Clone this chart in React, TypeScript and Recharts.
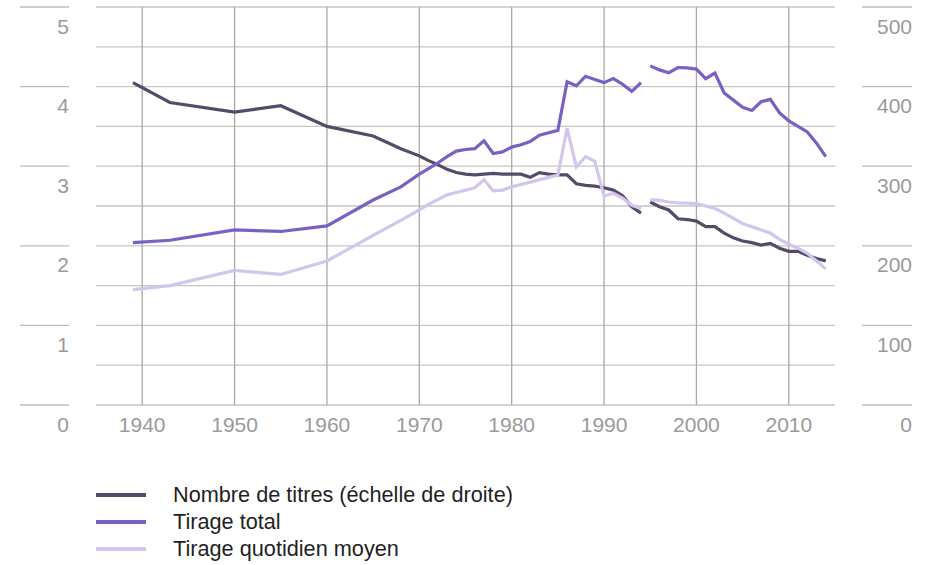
import { CartesianGrid, Line, LineChart, XAxis, YAxis } from 'recharts';

// Série 1 : 1939–1994, série 2 : 1995–2014 (rupture de série)
const YEARS_A = [
  1939, 1943, 1950, 1955, 1960, 1965, 1968, 1970, 1971, 1972, 1973, 1974, 1975, 1976, 1977, 1978,
  1979, 1980, 1981, 1982, 1983, 1984, 1985, 1986, 1987, 1988, 1989, 1990, 1991, 1992, 1993, 1994,
];
const YEARS_B = [
  1995, 1996, 1997, 1998, 1999, 2000, 2001, 2002, 2003, 2004, 2005, 2006, 2007, 2008, 2009, 2010,
  2011, 2012, 2013, 2014,
];

// Nombre de titres (échelle de droite)
const TITRES_A = [
  405, 380, 368, 376, 350, 338, 322, 313, 307, 302, 296, 292, 290, 289, 290, 291,
  290, 290, 290, 286, 292, 290, 289, 289, 278, 276, 275, 273, 270, 263, 249, 241,
];
const TITRES_B = [
  255, 249, 245, 234, 233, 231, 224, 224, 216, 210, 206, 204, 201, 203, 197, 193,
  193, 188, 184, 181,
];

// Tirage total (millions, échelle de gauche)
const TOTAL_A = [
  2.04, 2.07, 2.2, 2.18, 2.25, 2.575, 2.74, 2.9, 2.97, 3.04, 3.12, 3.19, 3.21, 3.22, 3.32, 3.16,
  3.18, 3.24, 3.27, 3.31, 3.39, 3.42, 3.45, 4.06, 4.01, 4.13, 4.09, 4.05, 4.1, 4.03, 3.94, 4.05,
];
const TOTAL_B = [
  4.26, 4.21, 4.175, 4.24, 4.235, 4.22, 4.1, 4.17, 3.92, 3.83, 3.74, 3.7, 3.81, 3.84, 3.67, 3.57,
  3.5, 3.43, 3.29, 3.12,
];

// Tirage quotidien moyen (millions, échelle de gauche)
const QUOTIDIEN_A = [
  1.45, 1.5, 1.69, 1.64, 1.81, 2.13, 2.32, 2.45, 2.52, 2.58, 2.64, 2.67, 2.7, 2.73, 2.83, 2.69,
  2.7, 2.74, 2.77, 2.8, 2.83, 2.86, 2.89, 3.475, 2.99, 3.12, 3.06, 2.625, 2.66, 2.6, 2.51, 2.47,
];
const QUOTIDIEN_B = [
  2.58, 2.57, 2.55, 2.54, 2.535, 2.53, 2.5, 2.47, 2.41, 2.345, 2.28, 2.24, 2.2, 2.16, 2.08, 2.02,
  1.97, 1.905, 1.81, 1.71,
];

const X_TICKS = [1940, 1950, 1960, 1970, 1980, 1990, 2000, 2010];
const LEFT_TICKS = [0, 0.5, 1, 1.5, 2, 2.5, 3, 3.5, 4, 4.5, 5];
const RIGHT_TICKS = [0, 100, 200, 300, 400, 500];

const SERIES = [
  { key: 'titres', name: 'Nombre de titres (échelle de droite)', color: '#564a69', axis: 'right' },
  { key: 'total', name: 'Tirage total', color: '#7a60c3', axis: 'left' },
  { key: 'quotidien', name: 'Tirage quotidien moyen', color: '#d3c5eb', axis: 'left' },
];

const segA = YEARS_A.map((year, i) => ({
  year,
  titres: TITRES_A[i],
  total: TOTAL_A[i],
  quotidien: QUOTIDIEN_A[i],
}));
const segB = YEARS_B.map((year, i) => ({
  year,
  titres: TITRES_B[i],
  total: TOTAL_B[i],
  quotidien: QUOTIDIEN_B[i],
}));

const W = 938;
const H = 440;
const PLOT_LEFT = 96;
const PLOT_RIGHT = 835;
const PLOT_TOP = 7;
const PLOT_BOTTOM = 405;
const FONT = '"Liberation Sans", Arial, sans-serif';
const LABEL_COLOR = '#9a9a9a';

function LeftTick(props: any) {
  const { y, payload } = props;
  if (!Number.isInteger(payload.value)) return <g />;
  return (
    <g>
      <line x1={PLOT_LEFT - 76} x2={PLOT_LEFT - 27} y1={y} y2={y} stroke="#bdbdbd" strokeWidth={1.3} />
      <text x={PLOT_LEFT - 27} y={y + 19} textAnchor="end" dominantBaseline="central" fill={LABEL_COLOR} fontSize={21} fontFamily={FONT}>
        {payload.value}
      </text>
    </g>
  );
}

function RightTick(props: any) {
  const { y, payload } = props;
  return (
    <g>
      <line x1={PLOT_RIGHT + 27} x2={PLOT_RIGHT + 77} y1={y} y2={y} stroke="#bdbdbd" strokeWidth={1.3} />
      <text x={PLOT_RIGHT + 77} y={y + 19} textAnchor="end" dominantBaseline="central" fill={LABEL_COLOR} fontSize={21} fontFamily={FONT}>
        {payload.value}
      </text>
    </g>
  );
}

function BottomTick(props: any) {
  const { x, payload } = props;
  return (
    <text x={x} y={PLOT_BOTTOM + 19} textAnchor="middle" dominantBaseline="central" fill={LABEL_COLOR} fontSize={21} fontFamily={FONT}>
      {payload.value}
    </text>
  );
}

export default function App() {
  return (
    <div style={{ position: 'absolute', left: 0, top: 0, width: W, height: 565, background: '#fff' }}>
      <LineChart width={W} height={H} margin={{ top: PLOT_TOP, right: 0, left: 0, bottom: 0 }}>
        <CartesianGrid yAxisId="left" vertical={false} stroke="#c6c6c6" strokeWidth={1.3} />
        <CartesianGrid yAxisId="left" horizontal={false} syncWithTicks stroke="#a9a9a9" strokeWidth={1.3} />
        <XAxis
          type="number"
          dataKey="year"
          domain={[1935, 2015]}
          ticks={X_TICKS}
          allowDataOverflow
          axisLine={false}
          tickLine={false}
          height={H - PLOT_BOTTOM}
          tick={BottomTick}
        />
        <YAxis
          yAxisId="left"
          orientation="left"
          domain={[0, 5]}
          ticks={LEFT_TICKS}
          width={PLOT_LEFT}
          axisLine={false}
          tickLine={false}
          tick={LeftTick}
          interval={0}
        />
        <YAxis
          yAxisId="right"
          orientation="right"
          domain={[0, 500]}
          ticks={RIGHT_TICKS}
          width={W - PLOT_RIGHT}
          axisLine={false}
          tickLine={false}
          tick={RightTick}
          interval={0}
        />
        {[segA, segB].map((seg, si) =>
          SERIES.map((s) => (
            <Line
              key={`${s.key}-${si}`}
              data={seg}
              dataKey={s.key}
              yAxisId={s.axis}
              type="linear"
              stroke={s.color}
              strokeWidth={3.2}
              dot={false}
              activeDot={false}
              isAnimationActive={false}
            />
          ))
        )}
      </LineChart>
      <div style={{ position: 'absolute', left: PLOT_LEFT, top: 482, fontFamily: FONT, fontSize: 21.7, color: '#1f1f1f' }}>
        {SERIES.map((s) => (
          <div key={s.key} style={{ display: 'flex', alignItems: 'center', height: 26.7 }}>
            <span style={{ display: 'inline-block', width: 50, height: 4, background: s.color, marginRight: 27 }} />
            <span>{s.name}</span>
          </div>
        ))}
      </div>
    </div>
  );
}
